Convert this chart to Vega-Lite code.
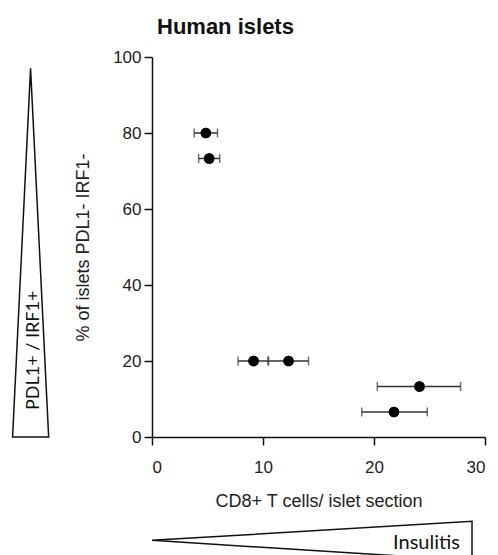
{
  "$schema": "https://vega.github.io/schema/vega-lite/v6.json",
  "width": 333,
  "height": 380,
  "autosize": "none",
  "padding": {"left": 152, "top": 57, "right": 13, "bottom": 118},
  "title": {"text": "Human islets", "anchor": "start", "frame": "group", "dx": 5, "offset": 9, "font": "Liberation Sans", "fontSize": 22, "fontWeight": "bold", "color": "#111"},
  "config": {
    "view": {"stroke": null},
    "axis": {"grid": false, "domainColor": "#111", "domainWidth": 1.5, "tickColor": "#111", "tickWidth": 1.5, "tickSize": 8, "labelFont": "Liberation Sans", "labelFontSize": 17, "labelColor": "#222", "titleFont": "Liberation Sans", "titleFontSize": 18, "titleFontWeight": "normal", "titleColor": "#222"}
  },
  "datasets": {
    "points": [
      {"cd8": 4.85, "pct": 80.0, "lo": 3.8, "hi": 5.9},
      {"cd8": 5.15, "pct": 73.3, "lo": 4.2, "hi": 6.1},
      {"cd8": 9.15, "pct": 20.0, "lo": 7.75, "hi": 10.45},
      {"cd8": 12.3, "pct": 20.0, "lo": 10.5, "hi": 14.1},
      {"cd8": 24.1, "pct": 13.3, "lo": 20.3, "hi": 27.8},
      {"cd8": 21.8, "pct": 6.6, "lo": 18.9, "hi": 24.8}
    ],
    "wedges": [
      {"wedge": "PDL1+ / IRF1+", "o": 1, "wx": -10.94, "wy": 97.0},
      {"wedge": "PDL1+ / IRF1+", "o": 2, "wx": -12.56, "wy": 0},
      {"wedge": "PDL1+ / IRF1+", "o": 3, "wx": -9.31, "wy": 0},
      {"wedge": "PDL1+ / IRF1+", "o": 4, "wx": -10.94, "wy": 97.0},
      {"wedge": "Insulitis", "o": 1, "wx": 0, "wy": -27.2},
      {"wedge": "Insulitis", "o": 2, "wx": 28.83, "wy": -22.2},
      {"wedge": "Insulitis", "o": 3, "wx": 28.83, "wy": -32.5},
      {"wedge": "Insulitis", "o": 4, "wx": 0, "wy": -27.2}
    ]
  },
  "layer": [
    {
      "data": {"name": "points"},
      "mark": {"type": "point", "filled": true, "color": "#000", "size": 110, "opacity": 1},
      "encoding": {
        "x": {"field": "cd8", "type": "quantitative", "title": "CD8+ T cells/ islet section", "scale": {"domain": [0, 30]}, "axis": {"values": [0, 10, 20, 30], "labelPadding": 14, "titlePadding": 17}},
        "y": {"field": "pct", "type": "quantitative", "title": "% of islets PDL1- IRF1-", "scale": {"domain": [0, 100]}, "axis": {"values": [0, 20, 40, 60, 80, 100], "labelPadding": 3, "titlePadding": 20}}
      }
    },
    {
      "data": {"name": "wedges"},
      "mark": {"type": "line", "color": "#111", "strokeWidth": 1.5, "clip": false},
      "encoding": {
        "x": {"field": "wx", "type": "quantitative", "title": "CD8+ T cells/ islet section", "scale": {"domain": [0, 30]}},
        "y": {"field": "wy", "type": "quantitative", "title": "% of islets PDL1- IRF1-", "scale": {"domain": [0, 100]}},
        "detail": {"field": "wedge"},
        "order": {"field": "o", "type": "quantitative"}
      }
    },
    {
      "data": {"name": "points"},
      "mark": {"type": "rule", "color": "#333", "strokeWidth": 1.5},
      "encoding": {
        "x": {"field": "lo", "type": "quantitative", "title": "CD8+ T cells/ islet section", "scale": {"domain": [0, 30]}},
        "x2": {"field": "hi"},
        "y": {"field": "pct", "type": "quantitative", "title": "% of islets PDL1- IRF1-", "scale": {"domain": [0, 100]}}
      }
    },
    {
      "data": {"name": "points"},
      "mark": {"type": "tick", "orient": "vertical", "color": "#333", "size": 9, "thickness": 1.5},
      "encoding": {
        "x": {"field": "lo", "type": "quantitative", "title": "CD8+ T cells/ islet section", "scale": {"domain": [0, 30]}},
        "y": {"field": "pct", "type": "quantitative", "title": "% of islets PDL1- IRF1-", "scale": {"domain": [0, 100]}}
      }
    },
    {
      "data": {"name": "points"},
      "mark": {"type": "tick", "orient": "vertical", "color": "#333", "size": 9, "thickness": 1.5},
      "encoding": {
        "x": {"field": "hi", "type": "quantitative", "title": "CD8+ T cells/ islet section", "scale": {"domain": [0, 30]}},
        "y": {"field": "pct", "type": "quantitative", "title": "% of islets PDL1- IRF1-", "scale": {"domain": [0, 100]}}
      }
    },
    {
      "data": {"name": "points"},
      "mark": {"type": "point", "filled": true, "color": "#000", "size": 110, "opacity": 1},
      "encoding": {
        "x": {"field": "cd8", "type": "quantitative", "title": "CD8+ T cells/ islet section", "scale": {"domain": [0, 30]}},
        "y": {"field": "pct", "type": "quantitative", "title": "% of islets PDL1- IRF1-", "scale": {"domain": [0, 100]}}
      }
    },
    {
      "data": {"name": "wedges"},
      "transform": [{"filter": "datum.o === 1 && datum.wedge === 'PDL1+ / IRF1+'"}],
      "mark": {"type": "text", "angle": 270, "align": "center", "baseline": "middle", "font": "Lato", "fontSize": 18, "color": "#111"},
      "encoding": {
        "text": {"field": "wedge"},
        "x": {"datum": -10.6, "type": "quantitative", "title": "CD8+ T cells/ islet section", "scale": {"domain": [0, 30]}},
        "y": {"datum": 22.8, "type": "quantitative", "title": "% of islets PDL1- IRF1-", "scale": {"domain": [0, 100]}}
      }
    },
    {
      "data": {"name": "wedges"},
      "transform": [{"filter": "datum.o === 1 && datum.wedge === 'Insulitis'"}],
      "mark": {"type": "text", "align": "right", "baseline": "alphabetic", "font": "Lato", "fontSize": 20, "color": "#111"},
      "encoding": {
        "text": {"field": "wedge"},
        "x": {"datum": 27.75, "type": "quantitative", "title": "CD8+ T cells/ islet section", "scale": {"domain": [0, 30]}},
        "y": {"datum": -29.6, "type": "quantitative", "title": "% of islets PDL1- IRF1-", "scale": {"domain": [0, 100]}}
      }
    }
  ]
}
